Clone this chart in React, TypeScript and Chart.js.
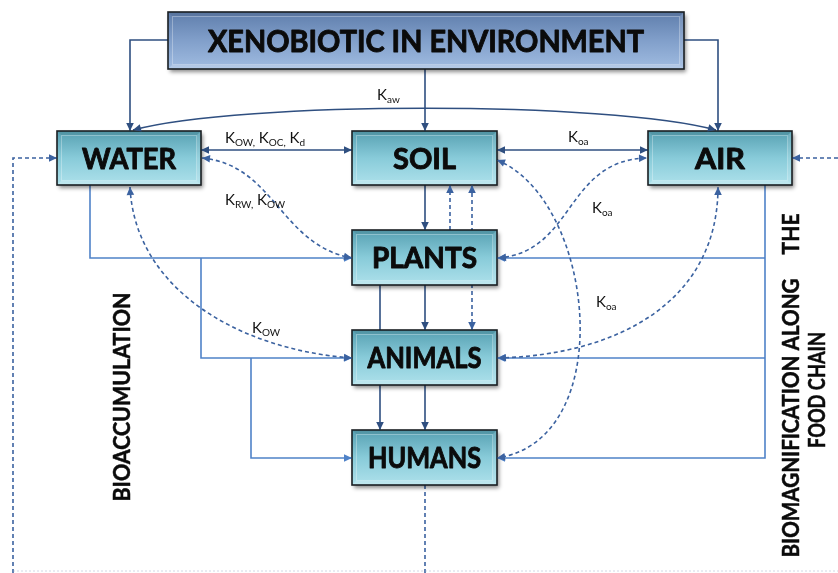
import React, { useEffect, useRef } from "react";
import { Chart, registerables } from "chart.js";

Chart.register(...registerables);

const FONT = "Lato, 'Open Sans', 'DejaVu Sans', sans-serif";

// ---------- diagram data (diagram units: 0..838 across, 0..573 down) ----------
const nodeNames = ["XENOBIOTIC IN ENVIRONMENT", "WATER", "SOIL", "AIR", "PLANTS", "ANIMALS", "HUMANS"];
const nodeLeft = [168, 57, 352, 648, 352, 352, 352];
const nodeTop = [12, 131, 131, 131, 230, 330, 430];
const nodeRight = [684, 201, 497, 792, 497, 497, 497];
const nodeBottom = [69, 185, 185, 185, 285, 385, 485];
const nodeLabelWidth = [436, 94, 63, 50, 105, 114, 113];

// arrows: 0 none, 1 end, 2 start, 3 both
const darkPaths: number[][][] = [
  [[168, 40], [130, 40], [130, 131]],
  [[684, 40], [718, 40], [718, 131]],
  [[425, 69], [425, 131]],
  [[201, 150], [352, 150]],
  [[497, 150], [648, 150]],
  [[425, 185], [425, 230]],
  [[380, 285], [380, 330]],
  [[425, 285], [425, 330]],
  [[380, 385], [380, 430]],
  [[425, 385], [425, 430]],
];
const darkArrows = [1, 1, 1, 3, 3, 1, 0, 1, 1, 1];

const dashedPaths: number[][][] = [
  [[450, 230], [450, 185]],
  [[472, 330], [472, 185]],
  [[425, 485], [425, 573]],
  [[13, 573], [13, 158], [57, 158]],
  [[838, 158], [792, 158]],
];
const dashedArrows = [1, 3, 0, 1, 1];

const faintPaths: number[][][] = [[[13, 571], [838, 571]]];

const lightPaths: number[][][] = [
  [[90, 185], [90, 258], [352, 258]],
  [[201, 258], [201, 358], [352, 358]],
  [[251, 358], [251, 458], [352, 458]],
  [[765, 185], [765, 458], [497, 458]],
  [[765, 258], [497, 258]],
  [[765, 358], [497, 358]],
];
const lightArrows = [1, 1, 1, 1, 1, 1];

// cubic curves: start, control 1, control 2, end
const dashedCurves: number[][][] = [
  [[202, 158], [275, 165], [280, 245], [352, 258]],
  [[130, 187], [135, 290], [240, 350], [352, 358]],
  [[497, 160], [595, 200], [620, 440], [497, 458]],
  [[498, 258], [575, 252], [565, 160], [647, 158]],
  [[498, 358], [620, 355], [718, 300], [718, 187]],
];
const solidCurves: number[][][] = [[[133, 130], [240, 101], [610, 101], [716, 130]]];

// coefficient labels: [text, subscript?] parts
const coefParts: [string, boolean][][] = [
  [["K", false], ["aw", true]],
  [["K", false], ["OW,", true], [" K", false], ["OC,", true], [" K", false], ["d", true]],
  [["K", false], ["RW,", true], [" K", false], ["OW", true]],
  [["K", false], ["OW", true]],
  [["K", false], ["oa", true]],
  [["K", false], ["oa", true]],
  [["K", false], ["oa", true]],
];
const coefX = [377, 225, 225, 252, 568, 592, 596];
const coefY = [100, 143, 205, 333, 142, 213, 307];

// vertical side texts
const sideTexts = ["BIOACCUMULATION", "BIOMAGNIFICATION ALONG", "THE", "FOOD CHAIN"];
const sideX = [122, 791, 791, 817];
const sideY = [397, 418, 234, 390];
const sideWidth = [209, 279, 41, 116];

// ---------- drawing helpers ----------
const DARK = "#2f4f80";
const DASH = "#3b62a0";
const LIGHT = "#4f82c8";
const BOX_CAP = 21;
const TITLE_CAP = 22;
const SIDE_CAP = 16;

function toDataset(pts: number[][], color: string, width: number, dash: number[]) {
  return {
    data: pts.map(([x, y]) => ({ x, y })),
    showLine: true,
    borderColor: color,
    backgroundColor: color,
    borderWidth: width,
    borderDash: dash,
    pointRadius: 0,
    pointHoverRadius: 0,
    fill: false,
    tension: 0,
  };
}

function arrowHead(ctx: CanvasRenderingContext2D, tx: number, ty: number, fx: number, fy: number, color: string) {
  const dx = tx - fx, dy = ty - fy;
  const len = Math.hypot(dx, dy) || 1;
  const ux = dx / len, uy = dy / len;
  const L = 8, H = 3.8;
  ctx.save();
  ctx.fillStyle = color;
  ctx.beginPath();
  ctx.moveTo(tx, ty);
  ctx.lineTo(tx - ux * L - uy * H, ty - uy * L + ux * H);
  ctx.lineTo(tx - ux * L + uy * H, ty - uy * L - ux * H);
  ctx.closePath();
  ctx.fill();
  ctx.restore();
}

// draw bold text of given cap height, compressed/stretched horizontally to a given width
function drawFitted(
  ctx: CanvasRenderingContext2D, text: string, cx: number, cy: number,
  width: number, cap: number, rotate: boolean, extra: number
) {
  ctx.save();
  ctx.font = `bold 100px ${FONT}`;
  const capRatio = ctx.measureText("H").actualBoundingBoxAscent / 100 || 0.72;
  const size = cap / capRatio;
  ctx.font = `bold ${size}px ${FONT}`;
  const w = ctx.measureText(text).width || 1;
  const sx = width / w;
  ctx.translate(cx, cy);
  if (rotate) ctx.rotate(-Math.PI / 2);
  ctx.scale(sx, 1);
  ctx.fillStyle = "#0b0b0b";
  ctx.strokeStyle = "#0b0b0b";
  ctx.lineWidth = extra;
  ctx.lineJoin = "round";
  ctx.textAlign = "center";
  ctx.textBaseline = "alphabetic";
  ctx.fillText(text, 0, cap / 2);
  if (extra > 0) ctx.strokeText(text, 0, cap / 2);
  ctx.restore();
}

const diagramPlugin = {
  id: "diagram",
  afterDatasetsDraw(chart: any) {
    const ctx: CanvasRenderingContext2D = chart.ctx;
    const xs = chart.scales.x, ys = chart.scales.y;
    const X = (v: number) => xs.getPixelForValue(v);
    const Y = (v: number) => ys.getPixelForValue(v);

    // curves
    const drawCurve = (c: number[][], color: string, dash: number[]) => {
      ctx.save();
      ctx.strokeStyle = color;
      ctx.lineWidth = 1.6;
      ctx.setLineDash(dash);
      ctx.beginPath();
      ctx.moveTo(X(c[0][0]), Y(c[0][1]));
      ctx.bezierCurveTo(X(c[1][0]), Y(c[1][1]), X(c[2][0]), Y(c[2][1]), X(c[3][0]), Y(c[3][1]));
      ctx.stroke();
      ctx.restore();
    };
    dashedCurves.forEach((c) => drawCurve(c, DASH, [4, 3]));
    solidCurves.forEach((c) => drawCurve(c, DARK, []));

    // boxes
    nodeNames.forEach((name, i) => {
      const l = X(nodeLeft[i]), r = X(nodeRight[i]), t = Y(nodeTop[i]), b = Y(nodeBottom[i]);
      const w = r - l, h = b - t;
      ctx.save();
      ctx.shadowColor = "rgba(0,0,0,0.45)";
      ctx.shadowBlur = 4;
      ctx.shadowOffsetX = 2;
      ctx.shadowOffsetY = 3;
      const g = ctx.createLinearGradient(0, t, 0, b);
      if (i === 0) {
        g.addColorStop(0, "#5f7eac");
        g.addColorStop(0.5, "#819fca");
        g.addColorStop(1, "#a0bce1");
      } else {
        g.addColorStop(0, "#57a0b2");
        g.addColorStop(0.5, "#88cbd9");
        g.addColorStop(1, "#aee1eb");
      }
      ctx.fillStyle = g;
      ctx.fillRect(l, t, w, h);
      ctx.restore();
      // bevel
      const k = 4;
      ctx.save();
      ctx.fillStyle = "rgba(0,0,0,0.08)";
      ctx.beginPath();
      ctx.moveTo(l, t); ctx.lineTo(r, t); ctx.lineTo(r - k, t + k); ctx.lineTo(l + k, t + k); ctx.closePath();
      ctx.fill();
      ctx.fillStyle = "rgba(255,255,255,0.22)";
      ctx.beginPath();
      ctx.moveTo(l, b); ctx.lineTo(r, b); ctx.lineTo(r - k, b - k); ctx.lineTo(l + k, b - k); ctx.closePath();
      ctx.fill();
      ctx.fillStyle = "rgba(255,255,255,0.12)";
      ctx.beginPath();
      ctx.moveTo(r, t); ctx.lineTo(r, b); ctx.lineTo(r - k, b - k); ctx.lineTo(r - k, t + k); ctx.closePath();
      ctx.fill();
      ctx.strokeStyle = "rgba(255,255,255,0.30)";
      ctx.lineWidth = 1;
      ctx.strokeRect(l + k + 0.5, t + k + 0.5, w - 2 * k - 1, h - 2 * k - 1);
      ctx.strokeStyle = "#1a1f22";
      ctx.lineWidth = 1.6;
      ctx.strokeRect(l, t, w, h);
      ctx.restore();
      // label
      drawFitted(ctx, name, (l + r) / 2, (t + b) / 2, nodeLabelWidth[i], i === 0 ? TITLE_CAP : BOX_CAP, false, 0.9);
    });

    // arrowheads
    const heads = (paths: number[][][], flags: number[], color: string) => {
      paths.forEach((p, i) => {
        const f = flags[i];
        const n = p.length;
        if (f & 1) arrowHead(ctx, X(p[n - 1][0]), Y(p[n - 1][1]), X(p[n - 2][0]), Y(p[n - 2][1]), color);
        if (f & 2) arrowHead(ctx, X(p[0][0]), Y(p[0][1]), X(p[1][0]), Y(p[1][1]), color);
      });
    };
    heads(darkPaths, darkArrows, DARK);
    heads(dashedPaths, dashedArrows, DASH);
    heads(lightPaths, lightArrows, LIGHT);
    const curveHeads = (cs: number[][][], color: string) => {
      cs.forEach((c) => {
        arrowHead(ctx, X(c[3][0]), Y(c[3][1]), X(c[2][0]), Y(c[2][1]), color);
        arrowHead(ctx, X(c[0][0]), Y(c[0][1]), X(c[1][0]), Y(c[1][1]), color);
      });
    };
    curveHeads(dashedCurves, DASH);
    curveHeads(solidCurves, DARK);

    // coefficient labels
    coefParts.forEach((parts, i) => {
      let x = X(coefX[i]);
      const y = Y(coefY[i]);
      ctx.save();
      ctx.fillStyle = "#111";
      ctx.textBaseline = "alphabetic";
      ctx.textAlign = "left";
      parts.forEach(([t, sub]) => {
        ctx.font = sub ? `10px ${FONT}` : `15px ${FONT}`;
        ctx.fillText(t, x, sub ? y + 3 : y);
        x += ctx.measureText(t).width;
      });
      ctx.restore();
    });

    // vertical side texts
    sideTexts.forEach((t, i) => {
      drawFitted(ctx, t, X(sideX[i]), Y(sideY[i]), sideWidth[i], SIDE_CAP, true, 0.5);
    });
  },
};

export default function App() {
  const ref = useRef<HTMLCanvasElement | null>(null);
  useEffect(() => {
    document.body.style.margin = "0";
    const canvas = ref.current;
    if (!canvas) return;
    const datasets: any[] = [
      ...faintPaths.map((p) => toDataset(p, "rgba(150,165,195,0.45)", 1, [2, 2])),
      ...lightPaths.map((p) => toDataset(p, LIGHT, 1.6, [])),
      ...dashedPaths.map((p) => toDataset(p, DASH, 1.6, [4, 3])),
      ...darkPaths.map((p) => toDataset(p, DARK, 1.6, [])),
    ];
    const chart = new Chart(canvas, {
      type: "scatter",
      data: { datasets },
      options: {
        animation: false,
        responsive: false,
        maintainAspectRatio: false,
        events: [],
        layout: { padding: 0 },
        plugins: { legend: { display: false }, tooltip: { enabled: false } },
        scales: {
          x: { type: "linear", min: 0, max: 838, display: false },
          y: { type: "linear", min: 0, max: 573, reverse: true, display: false },
        },
      },
      plugins: [diagramPlugin],
    } as any);
    return () => chart.destroy();
  }, []);
  return (
    <div style={{ position: "absolute", left: 0, top: 0, width: 838, height: 573, background: "#fff" }}>
      <canvas ref={ref} width={838} height={573} style={{ display: "block" }} />
    </div>
  );
}
